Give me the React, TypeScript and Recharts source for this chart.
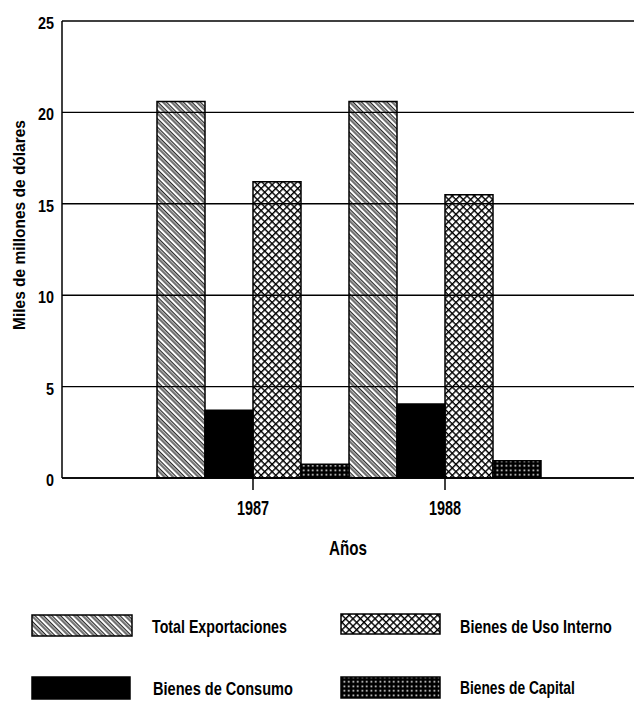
import React from 'react';
import { BarChart, Bar, XAxis, YAxis, CartesianGrid, Label } from 'recharts';

const years = ['1987', '1988'];
const totalExportaciones = [20.6, 20.6];
const bienesConsumo = [3.7, 4.05];
const bienesUsoInterno = [16.2, 15.5];
const bienesCapital = [0.75, 0.95];
const yTicks = [0, 5, 10, 15, 20, 25];

const FONT = "'Liberation Sans', Arial, sans-serif";

const chartData = years.map((year, i) => ({
  year,
  total: totalExportaciones[i],
  consumo: bienesConsumo[i],
  interno: bienesUsoInterno[i],
  capital: bienesCapital[i],
}));

const SERIES = [
  { key: 'total', name: 'Total Exportaciones', fill: 'diag' },
  { key: 'consumo', name: 'Bienes de Consumo', fill: 'solid' },
  { key: 'interno', name: 'Bienes de Uso Interno', fill: 'cross' },
  { key: 'capital', name: 'Bienes de Capital', fill: 'dots' },
];

// hatch patterns, prefix keeps ids unique between svgs
const Patterns = ({ prefix }: { prefix: string }) => (
  <defs>
    <pattern id={`${prefix}-diag`} width="6" height="6" patternUnits="userSpaceOnUse" patternTransform="rotate(-45)">
      <line x1="1" y1="0" x2="1" y2="6" stroke="#000" strokeWidth="1.1" />
      <line x1="3.3" y1="0" x2="3.3" y2="6" stroke="#000" strokeWidth="1.1" />
    </pattern>
    <pattern id={`${prefix}-cross`} width="5.2" height="5.2" patternUnits="userSpaceOnUse" patternTransform="rotate(45)">
      <line x1="0" y1="0" x2="0" y2="5.2" stroke="#000" strokeWidth="2.8" />
      <line x1="0" y1="0" x2="5.2" y2="0" stroke="#000" strokeWidth="2.8" />
    </pattern>
    <pattern id={`${prefix}-dots`} width="4.5" height="4.5" patternUnits="userSpaceOnUse">
      <rect x="0" y="0" width="4.5" height="4.5" fill="#000" />
      <rect x="1.5" y="1.5" width="1.6" height="1.6" fill="#fff" />
    </pattern>
  </defs>
);

const fillFor = (prefix: string, kind: string) => (kind === 'solid' ? '#000' : `url(#${prefix}-${kind})`);

let measureCtx: CanvasRenderingContext2D | null = null;
const textWidth = (s: string, size: number) => {
  if (!measureCtx) measureCtx = document.createElement('canvas').getContext('2d');
  if (!measureCtx) return s.length * size * 0.55;
  measureCtx.font = `bold ${size}px 'Liberation Sans', Arial, sans-serif`;
  return measureCtx.measureText(s).width;
};

// condensed look: bold Liberation Sans squeezed horizontally to a target length
const NarrowText = ({ x, y, len, size, anchor = 'start', rotate = 0, children }: any) => {
  const s = String(children);
  const sx = len / textWidth(s, size);
  const rot = rotate ? ` rotate(${rotate})` : '';
  return (
    <g transform={`translate(${x}, ${y})${rot} scale(${sx}, 1)`}>
      <text x={0} y={0} fontFamily={FONT} fontWeight="bold" fontSize={size} fill="#000" textAnchor={anchor}>
        {s}
      </text>
    </g>
  );
};

const YearTick = (props: any) => {
  const { x, y, payload } = props;
  return (
    <NarrowText x={x} y={y + 23} anchor="middle" size={20} len={32}>
      {payload.value}
    </NarrowText>
  );
};

const ValueTick = (props: any) => {
  const { x, y, payload } = props;
  const s = String(payload.value);
  return (
    <NarrowText x={x} y={y + 8} anchor="end" size={17} len={s.length * 8}>
      {s}
    </NarrowText>
  );
};

const LEGEND_ITEMS = [
  { name: 'Total Exportaciones', fill: 'diag', box: [32, 615, 100, 21], tx: 152, ty: 633, len: 135 },
  { name: 'Bienes de Uso Interno', fill: 'cross', box: [341, 614, 99, 20], tx: 460, ty: 633, len: 152 },
  { name: 'Bienes de Consumo', fill: 'solid', box: [32, 677, 98, 22], tx: 153, ty: 695, len: 140 },
  { name: 'Bienes de Capital', fill: 'dots', box: [341, 677, 99, 21], tx: 460, ty: 694, len: 115 },
];

const LegendBlock = () => (
  <svg width={634} height={121} viewBox="0 580 634 121" style={{ position: 'absolute', left: 0, top: 580 }}>
    <Patterns prefix="lg" />
    {LEGEND_ITEMS.map((it) => (
      <g key={it.name}>
        <rect x={it.box[0]} y={it.box[1]} width={it.box[2]} height={it.box[3]} fill={fillFor('lg', it.fill)} stroke="#000" strokeWidth={1.5} />
        <NarrowText x={it.tx} y={it.ty} size={18} len={it.len}>
          {it.name}
        </NarrowText>
      </g>
    ))}
  </svg>
);

export default function App() {
  return (
    <div style={{ position: 'absolute', left: 0, top: 0, width: 634, height: 701, background: '#fff' }}>
      <BarChart
        width={634}
        height={580}
        data={chartData}
        margin={{ top: 21, right: 0, bottom: 0, left: 0 }}
        barCategoryGap={0}
        barGap={0}
      >
        <Patterns prefix="ch" />
        <CartesianGrid vertical={false} stroke="#000" strokeWidth={1.4} />
        <XAxis
          dataKey="year"
          height={102}
          padding={{ left: 95, right: 93 }}
          stroke="#000"
          strokeWidth={1.5}
          tickSize={12}
          tick={<YearTick />}
        >
          <Label
            content={(p: any) => (
              <NarrowText x={p.viewBox.x + p.viewBox.width / 2} y={p.viewBox.y + 77} anchor="middle" size={20} len={38}>
                Años
              </NarrowText>
            )}
          />
        </XAxis>
        <YAxis
          width={62}
          domain={[0, 25]}
          ticks={yTicks}
          interval={0}
          stroke="#000"
          strokeWidth={1.5}
          tickLine={false}
          tickMargin={2}
          tick={<ValueTick />}
        >
          <Label
            content={(p: any) => (
              <NarrowText x={p.viewBox.x + 25} y={p.viewBox.y + 204} rotate={-90} anchor="middle" size={17} len={210}>
                Miles de millones de dólares
              </NarrowText>
            )}
          />
        </YAxis>
        {SERIES.map((s) => (
          <Bar
            key={s.key}
            dataKey={s.key}
            name={s.name}
            fill={fillFor('ch', s.fill)}
            stroke="#000"
            strokeWidth={1.5}
            isAnimationActive={false}
          />
        ))}
      </BarChart>
      <LegendBlock />
    </div>
  );
}
